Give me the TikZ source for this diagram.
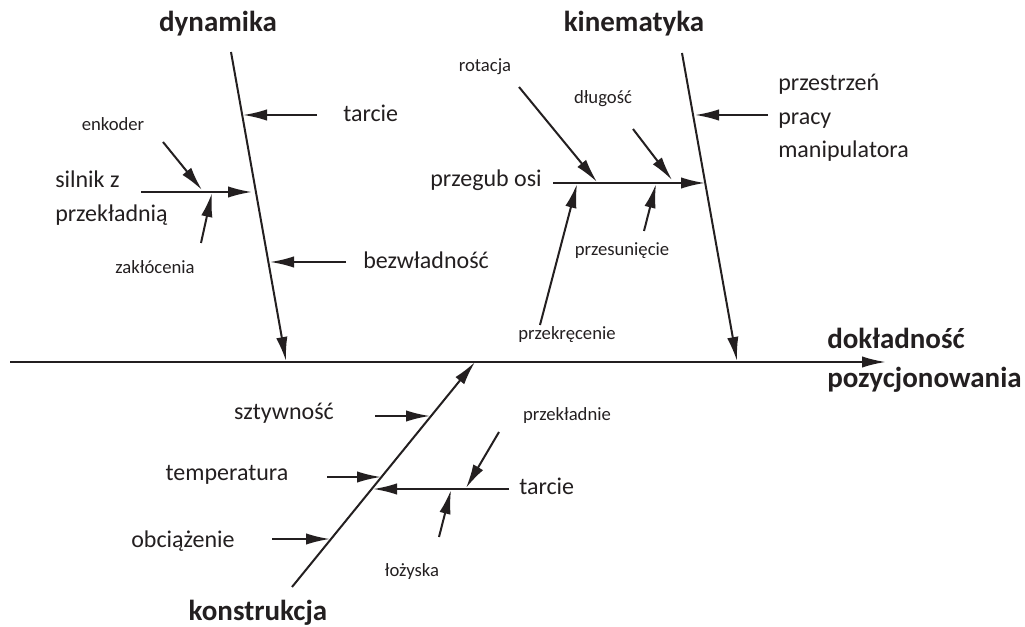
\documentclass[tikz,border=0pt]{standalone}
\usepackage{fontspec}
\setmainfont{Carlito}
\usetikzlibrary{arrows.meta}
\definecolor{ink}{RGB}{35,31,32}
\begin{document}
\begin{tikzpicture}[x=0.75pt,y=-0.75pt,
  line/.style={draw=ink,line width=1.5pt},
  arr/.style={line,-{Latex[length=18pt,width=8.5pt]}},
  big/.style={text=ink,inner sep=0pt,font=\fontsize{18}{23}\selectfont},
  small/.style={text=ink,inner sep=0pt,font=\fontsize{14}{17}\selectfont},
  head/.style={text=ink,inner sep=0pt,font=\bfseries\fontsize{21.75}{28}\selectfont}]
\useasboundingbox (0,0) rectangle (1025,627);
% spine
\coordinate (sp0) at (10,362);
\coordinate (sp1) at (886,362);
\draw[arr,line width=1.7pt] (sp0) -- (sp1);
\node[head,anchor=west,align=left] (goal) at (827,360) {dokładność\\[1pt]pozycjonowania};

% dynamika
\node[head] (dyn) at (218,24) {dynamika};
\coordinate (d0) at (231,52);
\coordinate (d1) at (286,361);
\draw[arr] (d0) -- (d1);
\coordinate (dt0) at (317,115); \coordinate (dt1) at (243,115);
\draw[arr] (dt0) -- (dt1);
\node[big,anchor=west] (dtl) at (343,113) {tarcie};
\coordinate (db0) at (346,262); \coordinate (db1) at (270,262);
\draw[arr] (db0) -- (db1);
\node[big,anchor=west] (dbl) at (363,260) {bezwładność};
\coordinate (ds0) at (141,192); \coordinate (ds1) at (252,192);
\draw[arr] (ds0) -- (ds1);
\node[big,anchor=west,align=left] (dsl) at (55,198) {silnik z\\[3pt]przekładnią};
\coordinate (de0) at (163,142); \coordinate (de1) at (202,190);
\draw[arr] (de0) -- (de1);
\node[small] (del) at (113,124) {enkoder};
\coordinate (dz0) at (201,243); \coordinate (dz1) at (212,193);
\draw[arr] (dz0) -- (dz1);
\node[small] (dzl) at (155,267) {zakłócenia};

% kinematyka
\node[head] (kin) at (634,24) {kinematyka};
\coordinate (k0) at (682,53);
\coordinate (k1) at (737,361);
\draw[arr] (k0) -- (k1);
\coordinate (kp0) at (768,115); \coordinate (kp1) at (695,115);
\draw[arr] (kp0) -- (kp1);
\node[big,anchor=west,align=left] (kpl) at (778,118) {przestrzeń\\[2pt]pracy\\[2pt]manipulatora};
\coordinate (kg0) at (553,183); \coordinate (kg1) at (705,183);
\draw[arr] (kg0) -- (kg1);
\node[big,anchor=east] (kgl) at (542,180) {przegub osi};
\coordinate (kr0) at (519,87); \coordinate (kr1) at (597,182);
\draw[arr] (kr0) -- (kr1);
\node[small] (krl) at (485,67) {rotacja};
\coordinate (kd0) at (633,129); \coordinate (kd1) at (672,180);
\draw[arr] (kd0) -- (kd1);
\node[small] (kdl) at (603,99) {długość};
\coordinate (ks0) at (644,231); \coordinate (ks1) at (656,184);
\draw[arr] (ks0) -- (ks1);
\node[small] (ksl) at (622,251) {przesunięcie};
\coordinate (kk0) at (540,325); \coordinate (kk1) at (577,184);
\draw[arr] (kk0) -- (kk1);
\node[small] (kkl) at (567,335) {przekręcenie};

% konstrukcja
\node[head] (kon) at (258,613) {konstrukcja};
\coordinate (c0) at (292,587);
\coordinate (c1) at (475,362);
\draw[arr] (c0) -- (c1);
\coordinate (cs0) at (375,416); \coordinate (cs1) at (430,416);
\draw[arr] (cs0) -- (cs1);
\node[big] (csl) at (284,413) {sztywność};
\coordinate (ct0) at (327,477); \coordinate (ct1) at (381,477);
\draw[arr] (ct0) -- (ct1);
\node[big] (ctl) at (227,475) {temperatura};
\coordinate (co0) at (272,539); \coordinate (co1) at (330,539);
\draw[arr] (co0) -- (co1);
\node[big] (col) at (183,541) {obciążenie};
\coordinate (cf0) at (509,489); \coordinate (cf1) at (373,489);
\draw[arr] (cf0) -- (cf1);
\node[big,anchor=west] (cfl) at (519,486) {tarcie};
\coordinate (cp0) at (499,432); \coordinate (cp1) at (466,488);
\draw[arr] (cp0) -- (cp1);
\node[small] (cpl) at (567,416) {przekładnie};
\coordinate (cl0) at (439,537); \coordinate (cl1) at (451,490);
\draw[arr] (cl0) -- (cl1);
\node[small] (cll) at (412,572) {łożyska};
\end{tikzpicture}
\end{document}
